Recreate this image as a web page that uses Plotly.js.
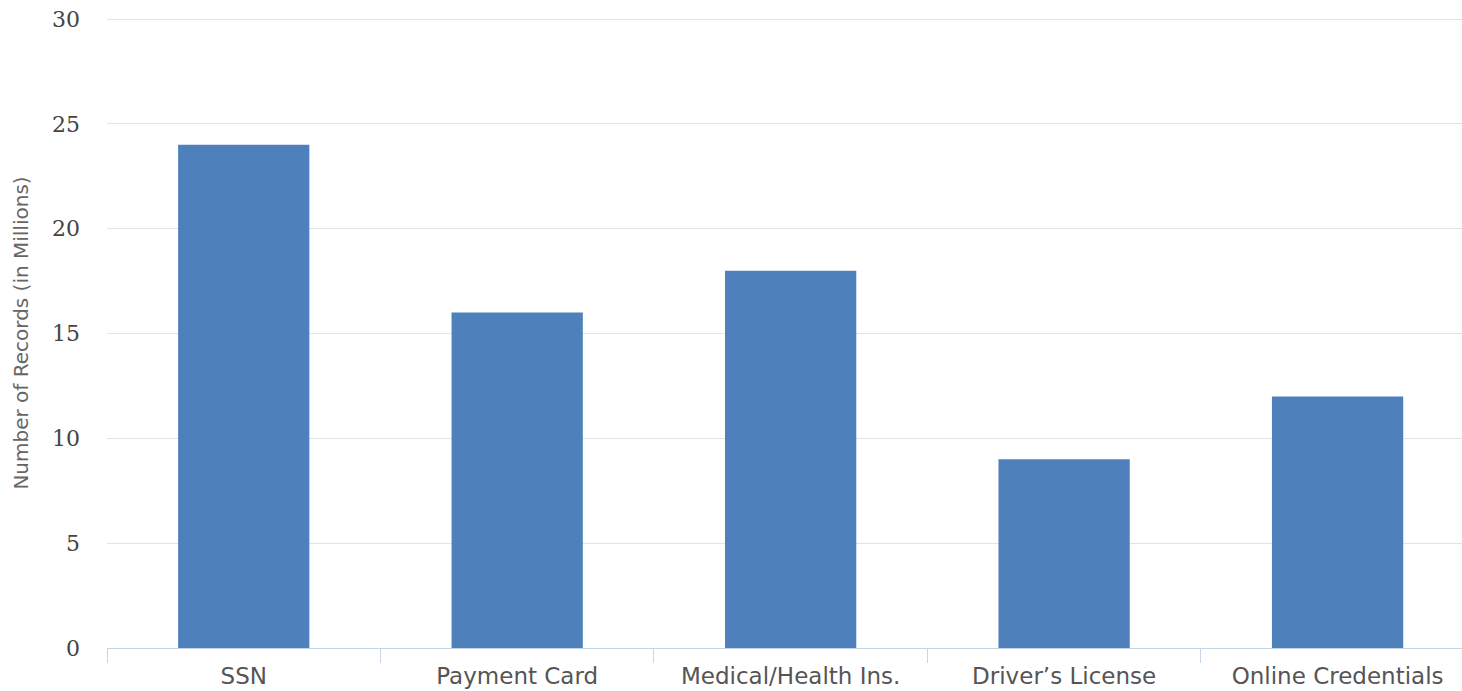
<!DOCTYPE html>
<html>
<head>
<meta charset="utf-8">
<script src="https://cdn.plot.ly/plotly-3.0.1.min.js"></script>
<style>
  html, body { margin: 0; padding: 0; background: #ffffff; overflow: hidden; }
  #chart { width: 1462px; height: 691px; }
</style>
</head>
<body>
<div id="chart"></div>
<script>
const categories = ["SSN", "Payment Card", "Medical/Health Ins.", "Driver\u2019s License", "Online Credentials"];
const recordsMillions = [24, 16, 18, 9, 12];
const yTickValues = [0, 5, 10, 15, 20, 25, 30];
const yAxisTitle = "Number of Records (in Millions)";

const trace = {
  type: "bar",
  x: categories,
  y: recordsMillions,
  marker: { color: "#4e80bb", line: { width: 0 } },
  hoverinfo: "x+y"
};

const layout = {
  width: 1462,
  height: 691,
  margin: { l: 107, r: 0, t: 18, b: 43, pad: 0 },
  paper_bgcolor: "#ffffff",
  plot_bgcolor: "#ffffff",
  showlegend: false,
  bargap: 0.52,
  xaxis: {
    type: "category",
    range: [-0.5, 4.455],
    tickson: "boundaries",
    ticks: "outside",
    ticklen: 14,
    tickwidth: 1,
    tickcolor: "#c6d4e8",
    showline: true,
    linecolor: "#c6d4e8",
    linewidth: 1,
    showgrid: false,
    zeroline: false,
    ticklabelstandoff: 7,
    tickfont: { family: "DejaVu Sans", size: 23, color: "#555555" },
    fixedrange: true
  },
  yaxis: {
    range: [0, 30.05],
    tickvals: yTickValues,
    ticktext: yTickValues.map(String),
    showline: false,
    showgrid: true,
    gridcolor: "#e3e3e3",
    gridwidth: 1,
    zeroline: false,
    ticks: "",
    ticklabelstandoff: 26,
    tickfont: { family: "DejaVu Serif", size: 22, color: "#444444" },
    title: {
      text: yAxisTitle,
      font: { family: "DejaVu Sans", size: 20, color: "#666666" },
      standoff: 18
    },
    automargin: false,
    fixedrange: true
  }
};

Plotly.newPlot("chart", [trace], layout, { displayModeBar: false, staticPlot: true });
</script>
</body>
</html>
